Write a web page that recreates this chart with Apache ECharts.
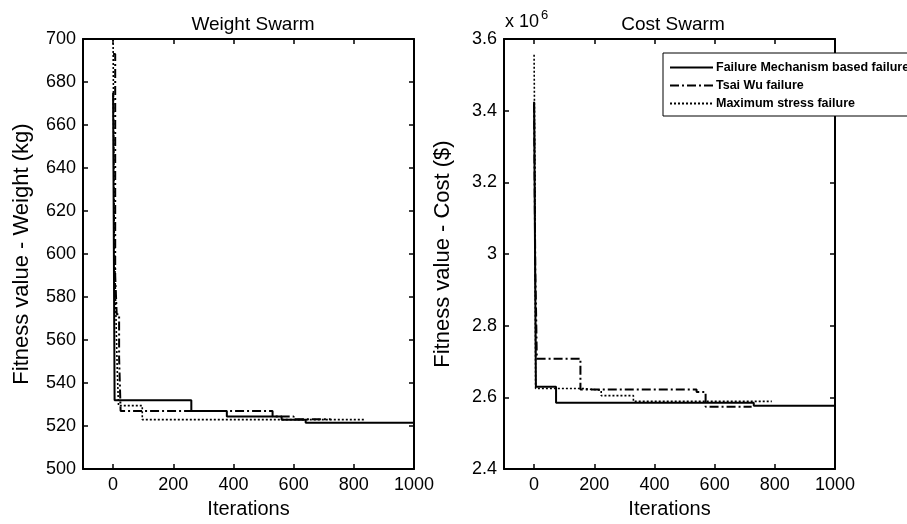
<!DOCTYPE html>
<html>
<head>
<meta charset="utf-8">
<script src="https://cdn.jsdelivr.net/npm/echarts@6/dist/echarts.min.js"></script>
<style>
  html, body { margin: 0; padding: 0; background: #fff; }
  #chart { width: 907px; height: 524px; }
</style>
</head>
<body>
<div id="chart"></div>
<script>
// series names (legend)
const seriesNames = ["Failure Mechanism based failure", "Tsai Wu failure", "Maximum stress failure"];

// x ticks shared by both panels
const iterTicks = [0, 200, 400, 600, 800, 1000];

// Weight swarm, [iteration, weight kg]
const weightMechanism = [[0, 675], [5, 532], [260, 527], [378, 524.5], [560, 523], [640, 521.5], [1000, 521.5]];
const weightTsaiWu = [[0, 693], [7, 590], [12, 572], [20, 552], [25, 527], [530, 524.5], [600, 523.2], [723, 523.2]];
const weightMaxStress = [[0, 700], [4, 610], [8, 580], [14, 545], [18, 529.5], [97, 523], [835, 523]];

// Cost swarm, [iteration, cost x 10^6 $]
const costMechanism = [[0, 3.425], [6, 2.63], [73, 2.585], [730, 2.577], [1000, 2.577]];
const costTsaiWu = [[0, 3.42], [4, 2.95], [7, 2.82], [9, 2.708], [154, 2.622], [540, 2.615], [570, 2.574], [723, 2.574]];
const costMaxStress = [[0, 3.556], [3, 3.2], [5, 2.625], [160, 2.62], [223, 2.605], [330, 2.589], [790, 2.589]];

const font = "'Liberation Sans', Arial, sans-serif";
const black = "#000";

function bottomX(grid, name) {
  return {
    type: "value", gridIndex: grid, position: "bottom", min: -100, max: 1000,
    name: name, nameLocation: "middle", nameGap: 27,
    nameTextStyle: { fontFamily: font, fontSize: 20, color: black },
    axisLine: { show: true, onZero: false, lineStyle: { color: black, width: 2 } },
    axisTick: { show: true, inside: true, length: 5, customValues: iterTicks, lineStyle: { color: black, width: 1.5 } },
    axisLabel: { show: true, customValues: iterTicks, margin: 7, fontFamily: font, fontSize: 18, color: black,
      formatter: v => String(v) },
    splitLine: { show: false }
  };
}
function topX(grid) {
  return {
    type: "value", gridIndex: grid, position: "top", min: -100, max: 1000,
    axisLine: { show: true, onZero: false, lineStyle: { color: black, width: 2 } },
    axisTick: { show: true, inside: true, length: 5, customValues: iterTicks, lineStyle: { color: black, width: 1.5 } },
    axisLabel: { show: false },
    splitLine: { show: false }
  };
}
function leftY(grid, name, min, max, interval) {
  return {
    type: "value", gridIndex: grid, position: "left", min: min, max: max, interval: interval,
    name: name, nameLocation: "middle", nameGap: 50, nameRotate: 90,
    nameTextStyle: { fontFamily: font, fontSize: 22, color: black },
    axisLine: { show: true, onZero: false, lineStyle: { color: black, width: 2 } },
    axisTick: { show: true, inside: true, length: 5, lineStyle: { color: black, width: 1.5 } },
    axisLabel: { margin: 7, fontFamily: font, fontSize: 18, color: black },
    splitLine: { show: false }
  };
}
function rightY(grid, min, max, interval) {
  return {
    type: "value", gridIndex: grid, position: "right", min: min, max: max, interval: interval,
    axisLine: { show: true, onZero: false, lineStyle: { color: black, width: 2 } },
    axisTick: { show: true, inside: true, length: 5, lineStyle: { color: black, width: 1.5 } },
    axisLabel: { show: false },
    splitLine: { show: false }
  };
}

const lineStyles = [
  { color: black, width: 2, type: "solid" },
  { color: black, width: 2, type: [9, 3, 2, 3] },
  { color: black, width: 1.6, type: [2, 2] }
];

function stepSeries(i, name, data, axis) {
  return {
    name: name, type: "line", step: "end", data: data,
    xAxisIndex: axis, yAxisIndex: axis,
    symbol: "none", animation: false,
    lineStyle: lineStyles[i], itemStyle: { color: black }
  };
}

const chart = echarts.init(document.getElementById("chart"));
chart.setOption({
  backgroundColor: "#fff",
  animation: false,
  title: [
    { text: "Weight Swarm", left: 248, top: 10, textAlign: "center", textStyle: { fontFamily: font, fontSize: 19, fontWeight: "normal", color: black } },
    { text: "Cost Swarm", left: 668, top: 10, textAlign: "center", textStyle: { fontFamily: font, fontSize: 19, fontWeight: "normal", color: black } }
  ],
  graphic: [
    { type: "text", left: 505, top: 13, style: { text: "x 10", font: "18px " + font, fill: black } },
    { type: "text", left: 541, top: 9, style: { text: "6", font: "13px " + font, fill: black } }
  ],
  legend: {
    data: seriesNames,
    orient: "vertical", left: 663, top: 53,
    backgroundColor: "#fff", borderColor: black, borderWidth: 1,
    padding: [8, 6, 6, 6], itemGap: 5, itemWidth: 43, itemHeight: 14,
    itemStyle: { opacity: 0 },
    textStyle: { fontFamily: font, fontSize: 12.5, fontWeight: "bold", color: black, padding: [0, 0, 0, -2] }
  },
  grid: [
    { left: 83, right: 493, top: 39, bottom: 50 },
    { left: 504, right: 72, top: 39, bottom: 50 }
  ],
  xAxis: [bottomX(0, "Iterations"), topX(0), bottomX(1, "Iterations"), topX(1)],
  yAxis: [
    leftY(0, "Fitness value - Weight (kg)", 500, 700, 20), rightY(0, 500, 700, 20),
    leftY(1, "Fitness value - Cost ($)", 2.4, 3.6, 0.2), rightY(1, 2.4, 3.6, 0.2)
  ],
  series: [
    stepSeries(0, seriesNames[0], weightMechanism, 0),
    stepSeries(1, seriesNames[1], weightTsaiWu, 0),
    stepSeries(2, seriesNames[2], weightMaxStress, 0),
    stepSeries(0, seriesNames[0], costMechanism, 2),
    stepSeries(1, seriesNames[1], costTsaiWu, 2),
    stepSeries(2, seriesNames[2], costMaxStress, 2)
  ]
});
</script>
</body>
</html>
